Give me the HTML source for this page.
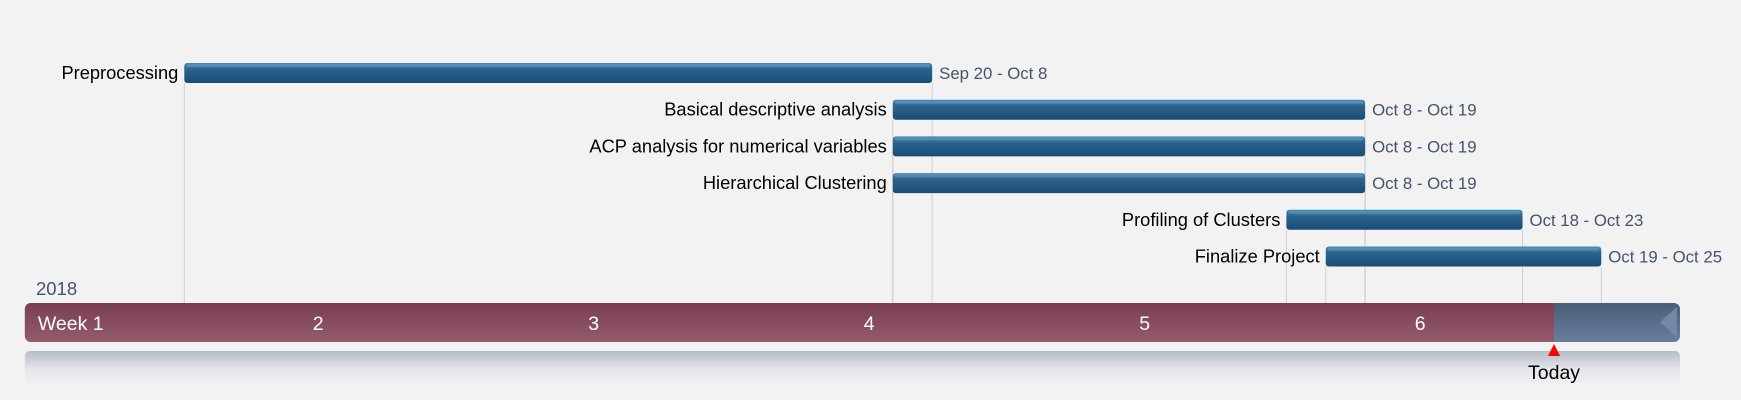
<!DOCTYPE html>
<html><head><meta charset="utf-8">
<style>
html,body{margin:0;padding:0;background:#f2f2f2;}
svg{display:block;font-family:"Liberation Sans",Calibri,sans-serif;}
</style></head>
<body>
<svg id="chart" width="1741" height="400" viewBox="0 0 1741 400" xmlns="http://www.w3.org/2000/svg">
<defs>
<linearGradient id="gBar" x1="0" y1="0" x2="0" y2="1">
<stop offset="0" stop-color="#4a86b0"/><stop offset="0.35" stop-color="#2a618b"/><stop offset="1" stop-color="#1a4d75"/>
</linearGradient>
<linearGradient id="gPast" x1="0" y1="0" x2="0" y2="1">
<stop offset="0" stop-color="#7a3e50"/><stop offset="1" stop-color="#945c6c"/>
</linearGradient>
<linearGradient id="gFut" x1="0" y1="0" x2="0" y2="1">
<stop offset="0" stop-color="#4a5d78"/><stop offset="1" stop-color="#687f9c"/>
</linearGradient>
<linearGradient id="gRefl" x1="0" y1="0" x2="0" y2="1">
<stop offset="0" stop-color="#b4bcc8"/><stop offset="0.5" stop-color="#e4e6ea"/><stop offset="1" stop-color="#f2f2f2"/>
</linearGradient>
</defs>
<g id="grid"></g>
<g id="bars"></g>
<g id="timeline"></g>
</svg>
<script>
const taskNames = ["Preprocessing","Basical descriptive analysis","ACP analysis for numerical variables","Hierarchical Clustering","Profiling of Clusters","Finalize Project"];
const taskStart = [0, 18, 18, 18, 28, 29];   // days from Sep 20
const taskEnd = [19, 30, 30, 30, 34, 36];    // exclusive end day
const taskLabels = ["Sep 20 - Oct 8","Oct 8 - Oct 19","Oct 8 - Oct 19","Oct 8 - Oct 19","Oct 18 - Oct 23","Oct 19 - Oct 25"];
const weekLabels = ["Week 1","2","3","4","5","6"];
const weekLabelDay = [-4.0, 3.4, 10.4, 17.4, 24.4, 31.4];
const todayDay = 34.8;
const axisStartDay = -4.05;
const axisEndDay = 38.0;
const yearLabel = "2018";

const NS = "http://www.w3.org/2000/svg";
const X0 = 184.3, DAY = 39.36;
function x(d){ return X0 + d*DAY; }
function rowY(i){ return 73 + i*36.7; }
function mk(tag, attrs, parent, text){
  const e = document.createElementNS(NS, tag);
  for (const k in attrs) e.setAttribute(k, attrs[k]);
  if (text !== undefined) e.textContent = text;
  parent.appendChild(e);
  return e;
}
const grid = document.getElementById('grid');
const bars = document.getElementById('bars');
const tl = document.getElementById('timeline');
const TL_TOP = 303, TL_BOT = 342;

taskNames.forEach((name, i) => {
  const cy = rowY(i);
  const x1 = x(taskStart[i]), x2 = x(taskEnd[i]);
  [x1, x2].forEach(xx => {
    const ln = mk('line', {x1: xx, x2: xx, y1: cy + 10, y2: TL_TOP, stroke: '#cfcfcf', 'stroke-width': 1}, grid);
    
    
  });
  const r = mk('rect', {x: x1, y: cy - 10, width: x2 - x1, height: 20, rx: 3, fill: 'url(#gBar)'}, bars);
  
  
  const hl = mk('rect', {x: x1 + 2, y: cy - 9, width: x2 - x1 - 4, height: 3, rx: 1.5, fill: '#6aa2c8', opacity: 0.5}, bars);
  
  
  const t = mk('text', {x: x1 - 6, y: cy + 6, 'text-anchor': 'end', 'font-size': 18.3, fill: '#000'}, bars, name);
  
  
  const d = mk('text', {x: x2 + 7, y: cy + 6, 'font-size': 16.8, fill: '#44546a'}, bars, taskLabels[i]);
  
  
});

const refl = mk('rect', {x: x(axisStartDay), y: 351, width: x(axisEndDay) - x(axisStartDay), height: 36, rx: 5, fill: 'url(#gRefl)'}, tl);


const fut = mk('rect', {x: x(axisStartDay), y: TL_TOP, width: x(axisEndDay) - x(axisStartDay), height: TL_BOT - TL_TOP, rx: 6, fill: 'url(#gFut)'}, tl);


const cap = mk('polygon', {points: `${x(axisEndDay)-20},${TL_TOP+19} ${x(axisEndDay)-3},${TL_TOP+4} ${x(axisEndDay)-3},${TL_BOT-4}`, fill: '#7488a3'}, tl);


const past = mk('rect', {x: x(axisStartDay), y: TL_TOP, width: x(todayDay) - x(axisStartDay), height: TL_BOT - TL_TOP, rx: 6, fill: 'url(#gPast)'}, tl);


const pastSq = mk('rect', {x: x(todayDay) - 8, y: TL_TOP, width: 8, height: TL_BOT - TL_TOP, fill: 'url(#gPast)'}, tl);



weekLabels.forEach((w, i) => {
  const t = mk('text', {x: x(weekLabelDay[i]) + (i === 0 ? 11 : 0), y: 330, 'text-anchor': i === 0 ? 'start' : 'middle', 'font-size': 19.5, fill: '#ffffff'}, tl, w);
  
  
});

const yr = mk('text', {x: 36, y: 295, 'font-size': 18.5, fill: '#44546a'}, tl, yearLabel);



const tx = x(todayDay);
const tri = mk('polygon', {points: `${tx-6},${356} ${tx+6},${356} ${tx},${344}`, fill: '#ff0000'}, tl);


const td = mk('text', {x: tx, y: 379, 'text-anchor': 'middle', 'font-size': 19.5, fill: '#000'}, tl, 'Today');


</script>
</body></html>
